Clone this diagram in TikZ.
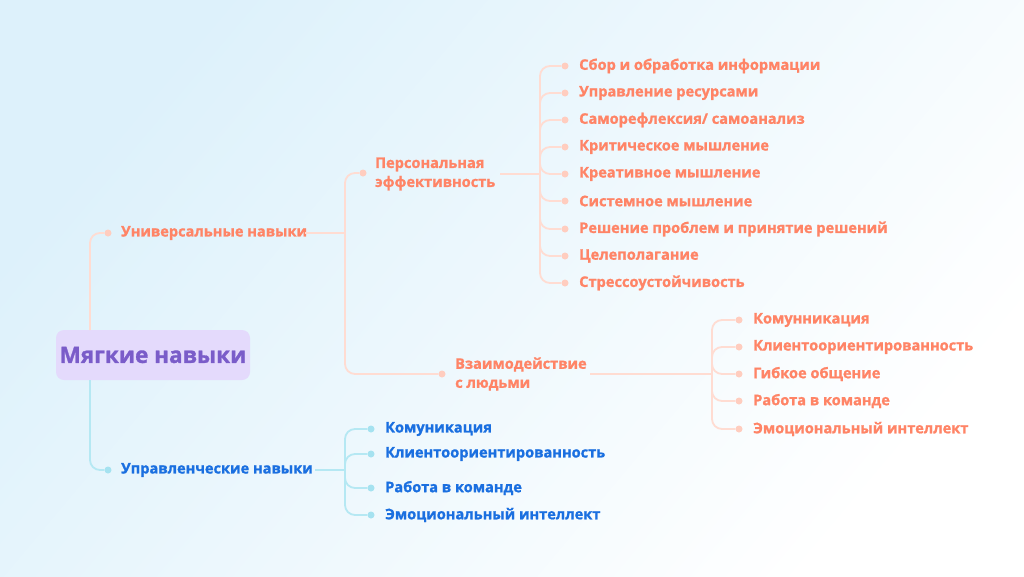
\documentclass[tikz,border=0pt]{standalone}
\usepackage{fontspec}
\setmainfont{Open Sans}[FakeBold=1.2]
\begin{document}
\begin{tikzpicture}[x=1pt,y=-1pt,
  sal/.style={text=salmon,font=\fontsize{14.6}{19}\selectfont\bfseries,anchor=west,inner sep=0pt,align=left},
  blu/.style={text=blueT,font=\fontsize{14.6}{19}\selectfont\bfseries,anchor=west,inner sep=0pt,align=left},
  sdot/.style={circle,fill=salDot,inner sep=0pt,minimum size=7pt},
  bdot/.style={circle,fill=bluDot,inner sep=0pt,minimum size=7pt},
  sline/.style={draw=salLine,line width=1.8pt,rounded corners=10pt},
  bline/.style={draw=bluLine,line width=1.8pt,rounded corners=10pt}]
\definecolor{salmon}{HTML}{FF8466}
\definecolor{salLine}{HTML}{FFDCD2}
\definecolor{salDot}{HTML}{FFCDBF}
\definecolor{blueT}{HTML}{1A6FE0}
\definecolor{bluLine}{HTML}{B5E8F3}
\definecolor{bluDot}{HTML}{A5E2F0}
\definecolor{bgA}{HTML}{DDF1FB}
\definecolor{rootF}{HTML}{E4DAFC}
\definecolor{rootT}{HTML}{7A5CC9}
\useasboundingbox (0,0) rectangle (1024,576);
\shade[left color=bgA,right color=white,shading angle=50] (0,0) rectangle (1024,576);
% root
\node[fill=rootF,rounded corners=8pt,minimum width=194pt,minimum height=50pt,text=rootT,font=\fontsize{22.5}{26}\selectfont\bfseries] (root) at (153,355) {Мягкие навыки};
% level 1
\node[sdot] (du) at (108,233) {};
\node[sal] (uni) at (121,233) {Универсальные навыки};
\node[bdot] (dm) at (108,470) {};
\node[blu] (man) at (121,470) {Управленческие навыки};
\draw[sline] (90,330) |- (du);
\draw[bline] (90,380) |- (dm);
% universal hub
\coordinate (hu) at (345,233);
\draw[sline] (305,233) -- (hu);
\node[sdot] (dp) at (363,173) {};
\node[sal] (pers) at (375,174) {Персональная\\эффективность};
\node[sdot] (dv) at (442,374) {};
\node[sal] (vz) at (455,374) {Взаимодействие\\с людьми};
\draw[sline] (hu) |- (dp);
\draw[sline] (hu) |- (dv);
% personal
\coordinate (hp) at (540,174);
\draw[sline] (500,174) -- (hp);
\foreach \i/\y/\t in {1/66/{Сбор и обработка информации},2/93/{Управление ресурсами},3/120/{Саморефлексия/ самоанализ},4/147/{Критическое мышление},5/174/{Креативное мышление},6/201/{Системное мышление},7/229/{Решение проблем и принятие решений},8/256/{Целеполагание},9/283/{Стрессоустойчивость}}{
  \node[sdot] (pd\i) at (565,\y) {};
  \node[sal] (pt\i) at (579,\y) {\t};
  \draw[sline] (hp) |- (pd\i);
}
% interaction
\coordinate (hv) at (712,374);
\draw[sline] (590,374) -- (hv);
\foreach \i/\y/\t in {1/320/Комунникация,2/347/Клиентоориентированность,3/374/Гибкое общение,4/401/Работа в команде,5/429/Эмоциональный интеллект}{
  \node[sdot] (vd\i) at (739,\y) {};
  \node[sal] (vt\i) at (753,\y) {\t};
  \draw[sline] (hv) |- (vd\i);
}
% managerial
\coordinate (hm) at (345,470);
\draw[bline] (315,470) -- (hm);
\foreach \i/\y/\t in {1/429/Комуникация,2/454/Клиентоориентированность,3/488/Работа в команде,4/515/Эмоциональный интеллект}{
  \node[bdot] (md\i) at (371,\y) {};
  \node[blu] (mt\i) at (385,\y) {\t};
  \draw[bline] (hm) |- (md\i);
}
\end{tikzpicture}
\end{document}
